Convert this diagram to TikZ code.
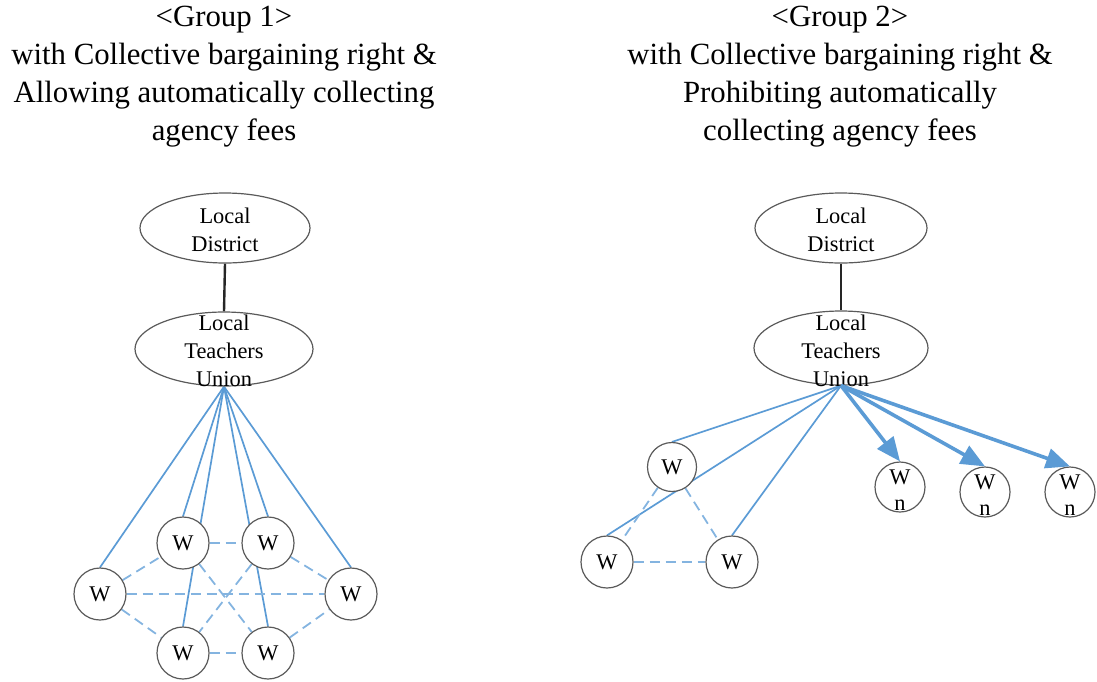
\documentclass[tikz,border=0pt]{standalone}
\usepackage{fontspec}
\setmainfont{Liberation Serif}
\usetikzlibrary{shapes.geometric,arrows.meta,backgrounds}
\definecolor{lblue}{HTML}{5B9BD5}
\definecolor{dblue}{HTML}{84B4E0}
\definecolor{edgegrey}{HTML}{5A5A5A}
\begin{document}
\begin{tikzpicture}[x=0.5pt,y=-0.5pt,
  titletext/.style={align=center, font=\fontsize{15.4}{19}\selectfont, inner sep=0},
  ell/.style={ellipse, draw=edgegrey, line width=0.6pt, fill=white, inner sep=0},
  ntext/.style={align=center, font=\fontsize{11.2}{14}\selectfont, inner sep=0},
  wnode/.style={circle, draw=edgegrey, line width=0.6pt, fill=white, minimum size=26pt, inner sep=0, font=\fontsize{11.2}{14}\selectfont},
  blink/.style={draw=black!85, line width=1.2pt},
  slink/.style={draw=lblue, line width=0.85pt},
  dlink/.style={draw=dblue, line width=0.9pt, dash pattern=on 5pt off 3pt},
  farrow/.style={draw=lblue, line width=1.8pt, -{Triangle[length=12pt,width=10pt,fill=lblue]}}]
\useasboundingbox (0,0) rectangle (1097,681);

% Titles
\node[titletext] (t1) at (224,77) {<Group 1>\\with Collective bargaining right \&\\Allowing automatically collecting\\agency fees};
\node[titletext] (t2) at (840,77) {<Group 2>\\with Collective bargaining right \&\\Prohibiting automatically\\collecting agency fees};

% Group 1
\node[ell, minimum width=85pt, minimum height=35pt] (ld1) at (225,228) {};
\node[ntext] (ld1t) at (225,230) {Local\\District};
\node[ell, minimum width=89pt, minimum height=37pt] (lu1) at (224,349) {};
\node[ntext] (lu1t) at (224,351) {Local\\Teachers\\Union};

\node[wnode] (wl)  at (100,594) {W};
\node[wnode] (wtl) at (183,543) {W};
\node[wnode] (wtr) at (268,543) {W};
\node[wnode] (wr)  at (351,594) {W};
\node[wnode] (wbl) at (183,653) {W};
\node[wnode] (wbr) at (268,653) {W};

% Group 2
\node[ell, minimum width=86pt, minimum height=35pt] (ld2) at (841,228) {};
\node[ntext] (ld2t) at (841,230) {Local\\District};
\node[ell, minimum width=87pt, minimum height=37pt] (lu2) at (841,348) {};
\node[ntext] (lu2t) at (841,351) {Local\\Teachers\\Union};

\node[wnode, minimum size=24.5pt] (wt)   at (672,467) {W};
\node[wnode] (wbl2) at (607,562) {W};
\node[wnode] (wbr2) at (732,562) {W};

\node[wnode, minimum size=25pt] (wn1) at (900,487) {};
\node[ntext, font=\fontsize{11.2}{12.8}\selectfont] (wn1t) at (900,490) {W\\n};
\node[wnode, minimum size=25pt] (wn2) at (985,492) {};
\node[ntext, font=\fontsize{11.2}{12.8}\selectfont] (wn2t) at (985,495) {W\\n};
\node[wnode, minimum size=25pt] (wn3) at (1070,492) {};
\node[ntext, font=\fontsize{11.2}{12.8}\selectfont] (wn3t) at (1070,495) {W\\n};

\begin{scope}[on background layer]
  % Group 1 links
  \draw[blink] (ld1.south) -- (lu1.north);
  \draw[slink] (lu1.south) -- (wl.north);
  \draw[slink] (lu1.south) -- (wtl.north);
  \draw[slink] (lu1.south) -- (wtr.north);
  \draw[slink] (lu1.south) -- (wr.north);
  \draw[slink] (lu1.south) -- (wbl.north);
  \draw[slink] (lu1.south) -- (wbr.north);
  \draw[dlink] (wl) -- (wtl);
  \draw[dlink] (wl) -- (wbl);
  \draw[dlink] (wl) -- (wr);
  \draw[dlink] (wtl) -- (wtr);
  \draw[dlink] (wbl) -- (wbr);
  \draw[dlink] (wtr) -- (wr);
  \draw[dlink] (wbr) -- (wr);
  \draw[dlink] (wtl) -- (wbr);
  \draw[dlink] (wtr) -- (wbl);
  % Group 2 links
  \draw[blink] (ld2.south) -- (lu2.north);
  \draw[slink] (lu2.south) -- (wt.north);
  \draw[slink] (lu2.south) -- (wbl2.north);
  \draw[slink] (lu2.south) -- (wbr2.north);
  \draw[dlink] (wt) -- (wbl2);
  \draw[dlink] (wt) -- (wbr2);
  \draw[dlink] (wbl2) -- (wbr2);
\end{scope}
\draw[farrow] (lu2.south) -- (wn1.north);
\draw[farrow] (lu2.south) -- (wn2.north);
\draw[farrow] (lu2.south) -- (wn3.north);
\end{tikzpicture}
\end{document}
